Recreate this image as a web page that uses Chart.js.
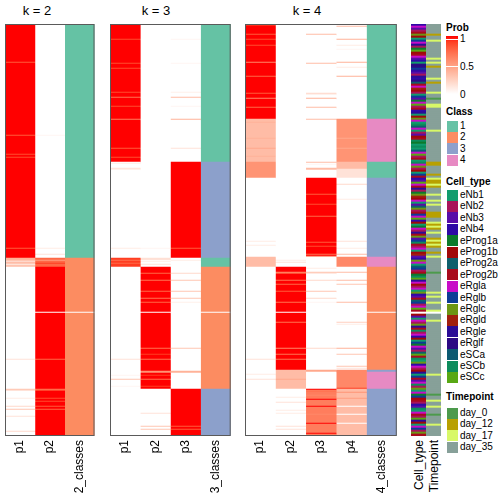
<!DOCTYPE html>
<html>
<head>
<meta charset="utf-8">
<script src="https://cdn.jsdelivr.net/npm/chart.js@4.4.1/dist/chart.umd.min.js"></script>
<style>
  body { margin: 0; background: #fff; }
  #wrap { position: relative; width: 504px; height: 504px; overflow: hidden; font-family: "Liberation Sans", Arial, sans-serif; color: #000; }
  canvas { position: absolute; }
  .t { position: absolute; white-space: nowrap; }
  .title { font-size: 13px; line-height: 16px; text-align: center; width: 60px; }
  .lgTitle { font-size: 10px; font-weight: bold; line-height: 12px; }
  .lgText { font-size: 10px; line-height: 12px; }
  .rot { font-size: 12px; line-height: 14px; width: 80px; height: 14px; text-align: right; transform-origin: 100% 50%; transform: rotate(-90deg); }
  .sw { position: absolute; width: 11px; height: 11px; }
</style>
</head>
<body>
<div id="wrap">
  <canvas id="k2" width="93" height="480" style="left:5px;top:24px;width:93px;height:480px"></canvas>
  <canvas id="k3" width="124" height="480" style="left:110px;top:24px;width:124px;height:480px"></canvas>
  <canvas id="k4" width="155" height="480" style="left:245px;top:24px;width:155px;height:480px"></canvas>
  <canvas id="anno" width="30" height="412" style="left:411px;top:24px;width:30px;height:412px"></canvas>
</div>
<script>
// rows are 1px high in the heatmaps (412 of them), one row is an empty separator
const N_ROWS = 412;
const GAP_ROW = 288;

const k2Columns = ['p1', 'p2', '2_classes'];
const k3Columns = ['p1', 'p2', 'p3', '3_classes'];
const k4Columns = ['p1', 'p2', 'p3', 'p4', '4_classes'];
const annoColumns = ['Cell_type', 'Timepoint'];

// [fromRow, toRow, prob] runs and [row, prob] single stripes
const k2P1Runs = [[0, 234, 1], [234, 243, 0.35]];
const k2P1Stripes = [[38, 0.8], [111, 0.8], [130, 0.85], [133, 0.85], [224, 0.8], [234, 0.4], [235, 0.4], [237, 0.15], [240, 0.1], [241, 0.3],
  [335, 0.15], [365, 0.3], [366, 0.2], [374, 0.1], [382, 0.2], [385, 0.3], [392, 0.15], [407, 0.2]];
const k2P2Runs = [[234, 243, 0.75], [243, 412, 1]];
const k2P2Stripes = [[111, 0.05], [224, 0.1], [230, 0.15], [236, 0.5], [239, 0.9], [335, 0.75], [365, 0.7], [366, 0.8], [374, 0.85],
  [377, 0.85], [382, 0.8], [385, 0.75]];
const k2ClassRuns = [[0, 234, 1], [234, 412, 2]];

const k3P1Runs = [[0, 138, 1], [234, 243, 0.9]];
const k3P1Stripes = [[15, 0.85], [39, 0.85], [44, 0.85], [68, 0.85], [73, 0.7], [82, 0.85], [95, 0.65], [124, 0.8], [133, 0.85],
  [139, 0.1], [144, 0.15], [145, 0.1], [224, 0.1], [236, 0.7], [239, 0.75], [335, 0.15], [351, 0.05], [355, 0.3], [362, 0.05]];
const k3P2Runs = [[243, 365, 1]];
const k3P2Stripes = [[224, 0.05], [234, 0.15], [235, 0.2], [237, 0.1], [240, 0.15], [249, 0.75], [256, 0.7], [267, 0.75], [274, 0.7],
  [278, 0.75], [324, 0.7], [330, 0.9], [335, 0.7], [347, 0.55], [348, 0.55], [351, 0.9], [355, 0.7], [362, 0.9], [389, 0.15], [402, 0.3], [405, 0.3]];
const k3P3Runs = [[138, 234, 1], [365, 412, 1]];
const k3P3Stripes = [[15, 0.05], [39, 0.05], [68, 0.08], [73, 0.35], [82, 0.05], [95, 0.4], [124, 0.15], [224, 0.8], [236, 0.1],
  [249, 0.2], [256, 0.3], [267, 0.3], [274, 0.3], [278, 0.08], [324, 0.3], [347, 0.4], [348, 0.4], [402, 0.8], [405, 0.8]];
const k3ClassRuns = [[0, 138, 1], [138, 234, 3], [234, 243, 1], [243, 365, 2], [365, 412, 3]];

const k4P1Runs = [[0, 95, 1], [95, 138, 0.35], [138, 154, 0.55], [233, 243, 0.35]];
const k4P1Stripes = [[1, 0.9], [10, 0.8], [15, 0.85], [21, 0.85], [38, 0.6], [52, 0.75], [69, 0.8], [74, 0.6], [83, 0.75], [98, 0.4],
  [114, 0.4], [124, 0.45], [132, 0.4], [217, 0.1], [221, 0.1], [335, 0.15], [350, 0.1], [355, 0.15]];
const k4P2Runs = [[243, 346, 1], [346, 365, 0.35]];
const k4P2Stripes = [[236, 0.1], [238, 0.15], [248, 0.6], [249, 0.75], [256, 0.7], [260, 0.75], [267, 0.8], [278, 0.7], [298, 0.7],
  [324, 0.6], [330, 0.7], [335, 0.7], [355, 0.45], [373, 0.1], [378, 0.15], [386, 0.1], [389, 0.1], [402, 0.15], [405, 0.15]];
const k4P3Runs = [[154, 233, 1], [346, 348, 0.45], [365, 412, 0.65]];
const k4P3Stripes = [[10, 0.35], [39, 0.35], [69, 0.2], [70, 0.1], [74, 0.4], [83, 0.35], [95, 0.35], [138, 0.35], [140, 0.05], [144, 0.35],
  [145, 0.35], [170, 0.8], [180, 0.85], [192, 0.75], [218, 0.8], [222, 0.85], [230, 0.7], [232, 0.6], [244, 0.1], [248, 0.3], [249, 0.15],
  [256, 0.2], [267, 0.3], [274, 0.2], [278, 0.05], [324, 0.2], [365, 1], [367, 0.7], [371, 0.6], [375, 1], [379, 0.65], [382, 1], [390, 0.6],
  [399, 1], [409, 1]];
const k4P4Runs = [[95, 138, 0.55], [138, 145, 0.35], [145, 154, 0.15], [233, 243, 0.6], [346, 365, 0.6], [365, 412, 0.35]];
const k4P4Stripes = [[2, 0.35], [15, 0.4], [21, 0.1], [25, 0.05], [38, 0.4], [43, 0.1], [52, 0.4], [114, 0.45], [124, 0.45], [160, 0.2],
  [175, 0.1], [217, 0.15], [224, 0.1], [230, 0.35], [248, 0.35], [256, 0.35], [260, 0.3], [278, 0.35], [298, 0.25], [300, 0.1], [324, 0.4],
  [330, 0.3], [342, 0.3], [344, 0.15], [364, 0.9], [368, 0.55], [374, 0.5], [382, 0], [390, 0], [399, 0]];
const k4ClassRuns = [[0, 95, 1], [95, 138, 4], [138, 154, 1], [154, 233, 3], [233, 243, 4], [243, 346, 2], [346, 348, 3], [348, 365, 4], [365, 412, 3]];

const classNames = ['1', '2', '3', '4'];
const classColors = ['#66C2A5', '#FC8D62', '#8DA0CB', '#E78AC3'];

const cellTypes = ['eNb1', 'eNb2', 'eNb3', 'eNb4', 'eProg1a', 'eProg1b', 'eProg2a', 'eProg2b', 'eRgla', 'eRglb', 'eRglc', 'eRgld', 'eRgle', 'eRglf', 'eSCa', 'eSCb', 'eSCc'];
const cellTypeColors = ['#119C6E', '#A8145A', '#580CA8', '#2E0AA6', '#0C7A2C', '#A00808', '#0E5F6C', '#A80A1C', '#C80CC8', '#0C3C96', '#6C9614', '#A0200E', '#2A0C96', '#2C0A84', '#0C5A72', '#0C8C5C', '#58A814'];
// annotation rows are 2px high (206 rows); letter a..q = cellTypes index, '.' = separator
const cellTypeCodes =
  'dicbhkfaji' + 'mbeqfhicda' + 'nnjdcbmdng' + 'hilfbajcei' + 'qbhdmafkia' +
  'pgiabcfhpe' + 'apaoiqbhap' + 'ikbfajhdcq' + 'ihmbeklfia' + 'cgkbhjiqdf' +
  'aeibmhkcjp' + 'hbiaflcdki' + 'aojbhepqmi' + 'fbiakdchgj' + 'biqh.fcaib' +
  'kmhpbidfaj' + 'eicbgqhpak' + 'dibfmajhci' + 'pbkaiejfhb' + 'dcpaihbqmf' + 'aijbkh';
const ANNO_GAP = 144;

const timepoints = ['day_0', 'day_12', 'day_17', 'day_35'];
const timepointColors = ['#4C9A4C', '#B8A000', '#D8F868', '#87A099'];
const timepointDefault = 'day_35';
const timepointStripes = [[5, 'day_12'], [8, 'day_17'], [17, 'day_17'], [19, 'day_17'], [21, 'day_12'], [27, 'day_17'], [29, 'day_12'],
  [34, 'day_17'], [37, 'day_0'], [40, 'day_17'], [41, 'day_17'], [53, 'day_17'], [69, 'day_12'], [70, 'day_12'], [75, 'day_12'],
  [77, 'day_17'], [78, 'day_12'], [79, 'day_12'], [80, 'day_17'], [81, 'day_12'], [85, 'day_17'], [88, 'day_17'], [90, 'day_17'],
  [94, 'day_12'], [95, 'day_12'], [96, 'day_12'], [99, 'day_17'], [100, 'day_12'], [101, 'day_17'], [102, 'day_12'], [104, 'day_17'],
  [107, 'day_12'], [108, 'day_17'], [109, 'day_12'], [110, 'day_17'], [111, 'day_12'], [114, 'day_12'], [116, 'day_17'], [124, 'day_0'],
  [134, 'day_17'], [136, 'day_17'], [139, 'day_17'], [143, 'day_17'], [148, 'day_17'], [175, 'day_17'], [185, 'day_0'], [188, 'day_17'],
  [191, 'day_17'], [195, 'day_0'], [200, 'day_17']];

const probTicks = ['1', '0.5', '0'];

// ---- colour helpers ----
function probColor(p) {
  if (p === null) return '#ffffff';
  // white -> red, interpolated in Lab like colorRamp2
  const L = 100 + (53.24 - 100) * p, A = 80.09 * p, B = 67.20 * p;
  const fy = (L + 16) / 116, fx = fy + A / 500, fz = fy - B / 200;
  const inv = t => t * t * t > 0.008856 ? t * t * t : (t - 16 / 116) / 7.787;
  const X = 0.95047 * inv(fx), Y = inv(fy), Z = 1.08883 * inv(fz);
  const lin = [3.2406 * X - 1.5372 * Y - 0.4986 * Z, -0.9689 * X + 1.8758 * Y + 0.0415 * Z, 0.0557 * X - 0.2040 * Y + 1.0570 * Z];
  const c = lin.map(v => {
    v = Math.min(1, Math.max(0, v));
    v = v <= 0.0031308 ? 12.92 * v : 1.055 * Math.pow(v, 1 / 2.4) - 0.055;
    return Math.round(v * 255);
  });
  return `rgb(${c[0]},${c[1]},${c[2]})`;
}

function expand(runs, stripes) {
  const v = new Array(N_ROWS).fill(0);
  runs.forEach(([a, b, p]) => { for (let i = a; i < b; i++) v[i] = p; });
  (stripes || []).forEach(([i, p]) => { v[i] = p; });
  v[GAP_ROW] = null;
  return v;
}

const rowLabels = Array.from({ length: N_ROWS }, (_, i) => i);

const framePlugin = {
  id: 'frame',
  afterDraw(chart) {
    const a = chart.chartArea, ctx = chart.ctx;
    ctx.save();
    ctx.strokeStyle = '#5a5a5a';
    ctx.lineWidth = 1;
    ctx.strokeRect(a.left + 0.5, a.top + 0.5, a.right - a.left - 1, a.bottom - a.top - 1);
    ctx.restore();
  }
};

function columnScale(names, height) {
  return {
    type: 'linear',
    display: height > 0,
    min: 0,
    max: names.length,
    grid: { display: false, drawTicks: false },
    border: { display: false },
    afterBuildTicks: s => { s.ticks = names.map((n, i) => ({ value: i + 0.5 })); },
    afterFit: s => { s.height = height; },
    ticks: {
      autoSkip: false,
      minRotation: 90,
      maxRotation: 90,
      padding: 4,
      color: '#000',
      font: { family: 'Liberation Sans', size: 12 },
      callback: (v, i) => names[i]
    }
  };
}

function heatmap(id, names, colorCols, labels, gapFrac, withFrame, axisHeight) {
  const datasets = colorCols.map((cols, c) => ({
    data: labels.map(() => [c + gapFrac, c + 1 - gapFrac]),
    backgroundColor: cols,
    borderWidth: 0,
    barPercentage: 1,
    categoryPercentage: 1,
    grouped: false
  }));
  return new Chart(document.getElementById(id), {
    type: 'bar',
    data: { labels: labels, datasets: datasets },
    plugins: withFrame ? [framePlugin] : [],
    options: {
      indexAxis: 'y',
      responsive: false,
      devicePixelRatio: 1,
      animation: false,
      layout: { padding: 0 },
      plugins: { legend: { display: false }, tooltip: { enabled: false } },
      scales: {
        y: { type: 'category', display: false },
        x: columnScale(names, axisHeight)
      }
    }
  });
}

function panel(id, names, probCols, classRuns) {
  const cols = probCols.map(v => v.map(probColor));
  const cls = expand(classRuns).map(c => c === null ? '#ffffff' : classColors[c - 1]);
  cols.push(cls);
  heatmap(id, names, cols, rowLabels, 0, true, 68);
}

panel('k2', k2Columns, [expand(k2P1Runs, k2P1Stripes), expand(k2P2Runs, k2P2Stripes)], k2ClassRuns);
panel('k3', k3Columns, [expand(k3P1Runs, k3P1Stripes), expand(k3P2Runs, k3P2Stripes), expand(k3P3Runs, k3P3Stripes)], k3ClassRuns);
panel('k4', k4Columns, [expand(k4P1Runs, k4P1Stripes), expand(k4P2Runs, k4P2Stripes), expand(k4P3Runs, k4P3Stripes), expand(k4P4Runs, k4P4Stripes)], k4ClassRuns);

// annotation columns
const annoRows = Array.from({ length: cellTypeCodes.length }, (_, i) => i);
const cellCol = cellTypeCodes.split('').map(ch => ch === '.' ? '#ffffff' : cellTypeColors[ch.charCodeAt(0) - 97]);
const tpRow = annoRows.map(() => timepointDefault);
timepointStripes.forEach(([r, t]) => { tpRow[r] = t; });
const tpCol = tpRow.map((t, i) => i === ANNO_GAP ? '#ffffff' : timepointColors[timepoints.indexOf(t)]);
heatmap('anno', annoColumns, [cellCol, tpCol], annoRows, 0.02, false, 0);

// ---- titles and legends (text) ----
const wrap = document.getElementById('wrap');
function addText(cls, txt, left, top) {
  const d = document.createElement('div');
  d.className = 't ' + cls;
  d.textContent = txt;
  d.style.left = left + 'px';
  d.style.top = top + 'px';
  wrap.appendChild(d);
  return d;
}
function addSwatch(color, left, top) {
  const d = document.createElement('div');
  d.className = 'sw';
  d.style.background = color;
  d.style.left = left + 'px';
  d.style.top = top + 'px';
  wrap.appendChild(d);
}

addText('title', 'k = 2', 37 - 30, 3);
addText('title', 'k = 3', 156 - 30, 3);
addText('title', 'k = 4', 307 - 30, 3);

// rotated annotation names under the two annotation columns
annoColumns.forEach((n, i) => addText('rot', n, 418.5 + i * 15 - 80, 440 - 7));

addText('lgTitle', 'Prob', 446, 22);
const grad = document.createElement('div');
const stops = [];
for (let i = 0; i <= 10; i++) stops.push(probColor(1 - i / 10) + ' ' + (i * 10) + '%');
grad.style.cssText = 'position:absolute;left:446px;top:36px;width:12px;height:58px;background:linear-gradient(' + stops.join(',') + ')';
wrap.appendChild(grad);
[39, 66].forEach(y => {
  const m = document.createElement('div');
  m.style.cssText = 'position:absolute;left:446px;width:12px;height:1px;background:#fff;top:' + y + 'px';
  wrap.appendChild(m);
});
probTicks.forEach((t, i) => addText('lgText', t, 460, [33, 61, 89][i]));

addText('lgTitle', 'Class', 446, 106);
classNames.forEach((n, i) => {
  const y = 126 + i * 11.4;
  addSwatch(classColors[i], 447, Math.round(y - 5.5));
  addText('lgText', n, 460, Math.round(y - 6));
});

addText('lgTitle', 'Cell_type', 446, 176);
cellTypes.forEach((n, i) => {
  const y = 195 + i * 11.4;
  addSwatch(cellTypeColors[i], 447, Math.round(y - 5.5));
  addText('lgText', n, 460, Math.round(y - 6));
});

addText('lgTitle', 'Timepoint', 446, 391);
timepoints.forEach((n, i) => {
  const y = 413 + i * 11.4;
  addSwatch(timepointColors[i], 447, Math.round(y - 5.5));
  addText('lgText', n, 460, Math.round(y - 6));
});
</script>
</body>
</html>
